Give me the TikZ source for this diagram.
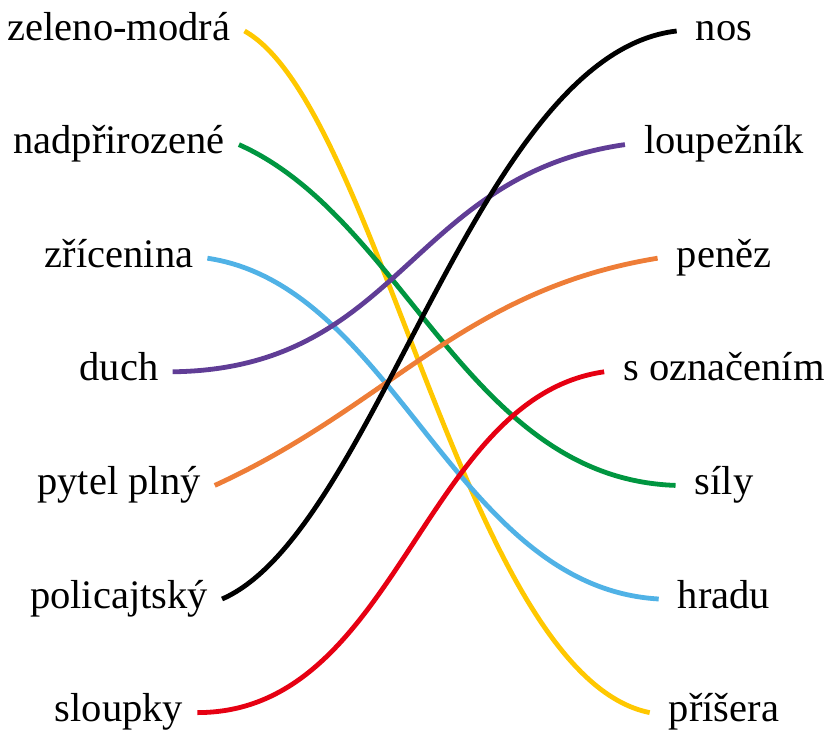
\documentclass[tikz,border=0pt]{standalone}
\usepackage{fontspec}
\setmainfont{Liberation Serif}
\usepackage{tikz}
\usetikzlibrary{positioning}

\definecolor{lnYellow}{RGB}{255,200,0}
\definecolor{lnGreen}{RGB}{0,150,64}
\definecolor{lnBlue}{RGB}{80,178,230}
\definecolor{lnPurple}{RGB}{96,61,150}
\definecolor{lnOrange}{RGB}{238,125,55}
\definecolor{lnRed}{RGB}{230,0,18}

\begin{document}
\begin{tikzpicture}[x=1pt,y=-1pt]
  \tikzset{
    word/.style={font=\fontsize{40.5}{48}\selectfont, text height=28pt, text depth=10pt, inner ysep=0pt},
    lword/.style={word, inner xsep=14pt},
    rword/.style={word, inner xsep=19pt},
    link/.style={line width=4.8pt}
  }
  \useasboundingbox (0,0) rectangle (825,729);

  % column positions
  \def\xL{119}
  \def\xR{724}

  % left column
  \node[lword] (zel) at (\xL,31) {zeleno-modrá};
  \node[lword] (nad) at (\xL,144.6) {nadpřirozené};
  \node[lword] (zri) at (\xL,258.2) {zřícenina};
  \node[lword] (duc) at (\xL,371.8) {duch};
  \node[lword] (pyt) at (\xL,485.4) {pytel plný};
  \node[lword] (pol) at (\xL,599) {policajtský};
  \node[lword] (slo) at (\xL,712.6) {sloupky};

  % right column
  \node[rword] (nos) at (\xR,31) {nos};
  \node[rword] (lou) at (\xR,144.6) {loupežník};
  \node[rword] (pen) at (\xR,258.2) {peněz};
  \node[rword] (soz) at (\xR,371.8) {s označením};
  \node[rword] (sil) at (\xR,485.4) {síly};
  \node[rword] (hra) at (\xR,599) {hradu};
  \node[rword] (pri) at (\xR,712.6) {příšera};

  % pairs
  \draw[link, lnYellow] (zel.east) .. controls +(134,75) and +(-184,-37) .. (pri.west);
  \draw[link, lnGreen]  (nad.east) .. controls +(166,74) and +(-208,-7) .. (sil.west);
  \draw[link, lnBlue]   (zri.east) .. controls +(188,28) and +(-204,-12) .. (hra.west);
  \draw[link, lnPurple] (duc.east) .. controls +(228,-3) and +(-216,31) .. (lou.west);
  \draw[link, lnOrange] (pyt.east) .. controls +(175,-80) and +(-195,32) .. (pen.west);
  \draw[link, black]    (pol.east) .. controls +(154,-67) and +(-200,23) .. (nos.west);
  \draw[link, lnRed]    (slo.east) .. controls +(200,0) and +(-182,26) .. (soz.west);

\end{tikzpicture}
\end{document}
